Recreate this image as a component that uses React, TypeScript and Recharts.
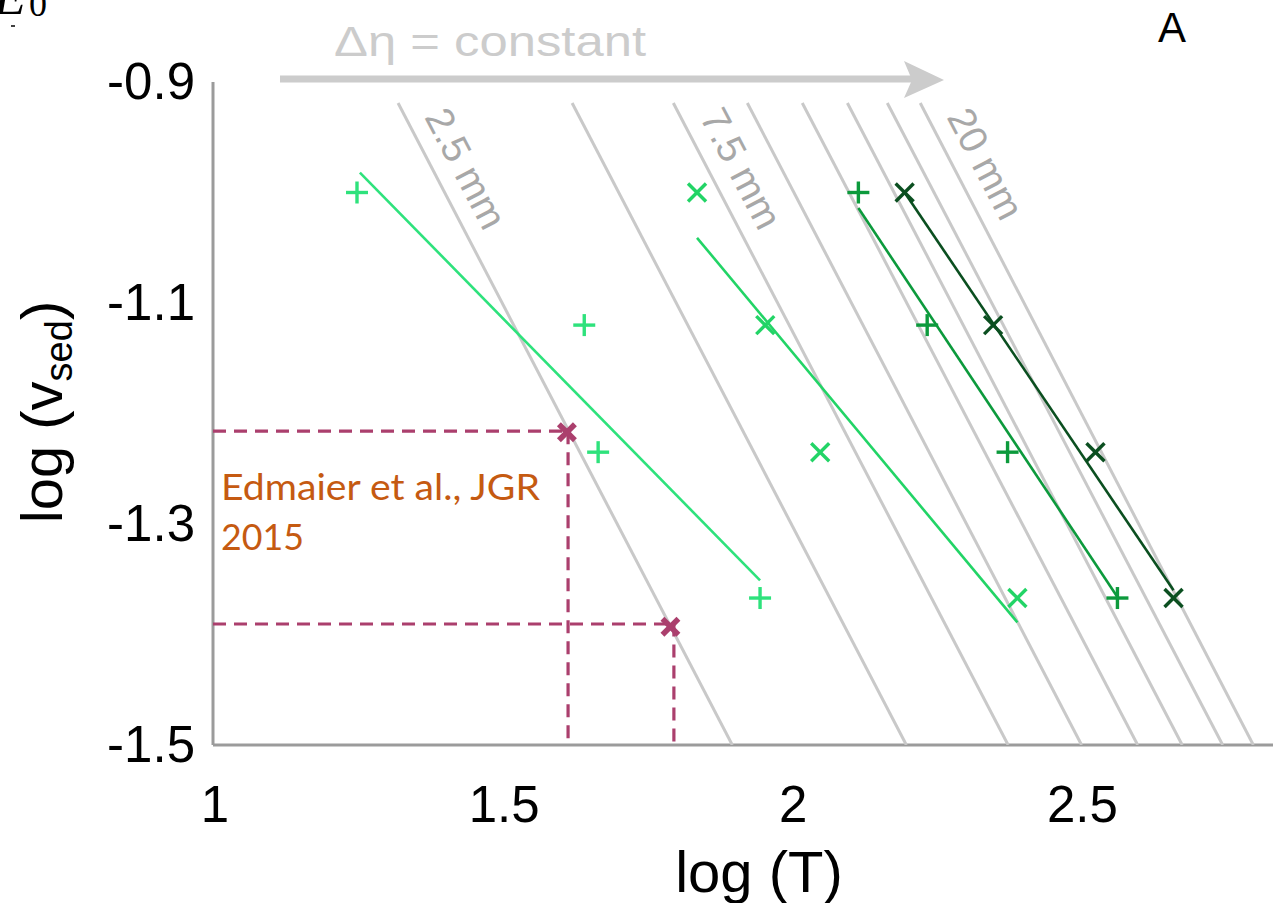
import React from 'react';
import { ScatterChart, Scatter, XAxis, YAxis } from 'recharts';

// ---- axes ----
const X_DOMAIN: [number, number] = [1, 2.833];
const Y_DOMAIN: [number, number] = [-1.5, -0.9];
const X_TICKS = [1, 1.5, 2, 2.5];
const X_TICK_LABELS = ['1', '1.5', '2', '2.5'];
const Y_TICKS = [-1.5, -1.3, -1.1, -0.9];
const Y_TICK_LABELS = ['-1.5', '-1.3', '-1.1', '-0.9'];

// ---- constant Δη guide lines (log T at bottom and top of each line) ----
const gridBottomLogT = [1.898, 2.199, 2.375, 2.502, 2.599, 2.676, 2.746, 2.799];
const gridTopLogT = [1.32, 1.621, 1.796, 1.924, 2.019, 2.097, 2.166, 2.223];
const GRID_TOP_V = -0.919;
const GRID_BOTTOM_V = -1.5;
const gridLabels = ['2.5 mm', '', '7.5 mm', '', '', '', '', '20 mm'];

// ---- measured series ----
const seriesV = [-1.0, -1.12, -1.235, -1.367];
const s1T = [1.249, 1.642, 1.666, 1.946];
const s2T = [1.837, 1.955, 2.05, 2.391];
const s3T = [2.116, 2.235, 2.374, 2.564];
const s4T = [2.196, 2.349, 2.526, 2.661];

// ---- fitted lines ----
const fit1T = [1.254, 1.946];
const fit1V = [-0.982, -1.351];
const fit2T = [1.837, 2.391];
const fit2V = [-1.041, -1.389];
const fit3T = [2.116, 2.564];
const fit3V = [-1.014, -1.366];
const fit4T = [2.196, 2.661];
const fit4V = [-1.0, -1.36];

// ---- Edmaier et al. points & guides ----
const edmT = [1.612, 1.791];
const edmV = [-1.217, -1.393];
const edmH1T = [1.0, 1.612];
const edmH1V = [-1.216, -1.216];
const edmV1T = [1.614, 1.614];
const edmV1V = [-1.216, -1.5];
const edmH2T = [1.0, 1.791];
const edmH2V = [-1.3905, -1.3905];
const edmV2T = [1.797, 1.797];
const edmV2V = [-1.39, -1.5];

const COLORS = {
  s1: '#2ee27c',
  s2: '#22d466',
  s3: '#0c9a3c',
  s4: '#0b4f20',
  grid: '#c9c9c9',
  axis: '#9b9b9b',
  edm: '#ab3f6d',
  edmText: '#c55a11',
  gridText: '#a8a8a8',
};

const toPts = (xs: number[], ys: number[]) => xs.map((x, i) => ({ x, y: ys[i] }));

const Empty = () => <g />;

const plusShape = (color: string) => (p: any) => {
  const { cx, cy } = p;
  const s = 11;
  return (
    <g stroke={color} strokeWidth={3.4}>
      <line x1={cx - s} y1={cy} x2={cx + s} y2={cy} />
      <line x1={cx} y1={cy - s} x2={cx} y2={cy + s} />
    </g>
  );
};

const crossShape = (color: string, s = 9, w = 3.4) => (p: any) => {
  const { cx, cy } = p;
  return (
    <g stroke={color} strokeWidth={w}>
      <line x1={cx - s} y1={cy - s} x2={cx + s} y2={cy + s} />
      <line x1={cx - s} y1={cy + s} x2={cx + s} y2={cy - s} />
    </g>
  );
};

const gridLabelShape = (p: any) => {
  const { cx, cy, payload } = p;
  const px = cx + 26;
  const py = cy + 14;
  return (
    <text
      x={px}
      y={py}
      transform={`rotate(62.5 ${px} ${py})`}
      fontFamily="'Liberation Sans', Arial, sans-serif"
      fontSize={39}
      fill={COLORS.gridText}
    >
      {payload.label}
    </text>
  );
};

const XTick = (p: any) => {
  const { x, y, payload } = p;
  const idx = X_TICKS.indexOf(payload.value);
  return (
    <text
      x={x + 2}
      y={y + 77}
      textAnchor="middle"
      fontFamily="'Liberation Sans', Arial, sans-serif"
      fontSize={51}
      fill="#000"
    >
      {X_TICK_LABELS[idx]}
    </text>
  );
};

const YTick = (p: any) => {
  const { x, y, payload } = p;
  const idx = Y_TICKS.indexOf(payload.value);
  return (
    <text
      x={x - 18}
      y={y + 17}
      textAnchor="end"
      fontFamily="'Liberation Sans', Arial, sans-serif"
      fontSize={51}
      fill="#000"
    >
      {Y_TICK_LABELS[idx]}
    </text>
  );
};

export default function App() {
  const gridLabelData = gridLabels
    .map((label, i) => ({ x: gridTopLogT[i], y: GRID_TOP_V, label }))
    .filter((d) => d.label !== '');
  const dashLine = { stroke: COLORS.edm, strokeWidth: 3.2, strokeDasharray: '13 8' };
  const sans = "'Liberation Sans', Arial, sans-serif";

  return (
    <div style={{ position: 'absolute', left: 0, top: 0, width: 1273, height: 903, background: '#fff' }}>
      <ScatterChart
        width={1273}
        height={903}
        margin={{ top: 82, right: 0, bottom: 0, left: 0 }}
      >
        <XAxis
          type="number"
          dataKey="x"
          domain={X_DOMAIN}
          ticks={X_TICKS}
          allowDataOverflow
          height={158}
          axisLine={{ stroke: COLORS.axis, strokeWidth: 3 }}
          tickLine={false}
          tickSize={0}
          tickMargin={0}
          tick={<XTick />}
          interval={0}
        />
        <YAxis
          type="number"
          dataKey="y"
          domain={Y_DOMAIN}
          ticks={Y_TICKS}
          allowDataOverflow
          width={213}
          axisLine={{ stroke: COLORS.axis, strokeWidth: 3 }}
          tickLine={false}
          tickSize={0}
          tickMargin={0}
          tick={<YTick />}
          interval={0}
        />

        {gridBottomLogT.map((b, i) => (
          <Scatter
            key={`g${i}`}
            data={toPts([gridTopLogT[i], b], [GRID_TOP_V, GRID_BOTTOM_V])}
            line={{ stroke: COLORS.grid, strokeWidth: 3 }}
            shape={Empty}
            isAnimationActive={false}
          />
        ))}
        <Scatter data={gridLabelData} shape={gridLabelShape} isAnimationActive={false} />

        <Scatter data={toPts(edmH1T, edmH1V)} line={dashLine} shape={Empty} isAnimationActive={false} />
        <Scatter data={toPts(edmV1T, edmV1V)} line={dashLine} shape={Empty} isAnimationActive={false} />
        <Scatter data={toPts(edmH2T, edmH2V)} line={dashLine} shape={Empty} isAnimationActive={false} />
        <Scatter data={toPts(edmV2T, edmV2V)} line={dashLine} shape={Empty} isAnimationActive={false} />

        <Scatter data={toPts(fit1T, fit1V)} line={{ stroke: COLORS.s1, strokeWidth: 2.6 }} shape={Empty} isAnimationActive={false} />
        <Scatter data={toPts(fit2T, fit2V)} line={{ stroke: COLORS.s2, strokeWidth: 2.6 }} shape={Empty} isAnimationActive={false} />
        <Scatter data={toPts(fit3T, fit3V)} line={{ stroke: COLORS.s3, strokeWidth: 2.6 }} shape={Empty} isAnimationActive={false} />
        <Scatter data={toPts(fit4T, fit4V)} line={{ stroke: COLORS.s4, strokeWidth: 2.6 }} shape={Empty} isAnimationActive={false} />

        <Scatter data={toPts(s1T, seriesV)} shape={plusShape(COLORS.s1)} isAnimationActive={false} />
        <Scatter data={toPts(s2T, seriesV)} shape={crossShape(COLORS.s2)} isAnimationActive={false} />
        <Scatter data={toPts(s3T, seriesV)} shape={plusShape(COLORS.s3)} isAnimationActive={false} />
        <Scatter data={toPts(s4T, seriesV)} shape={crossShape(COLORS.s4)} isAnimationActive={false} />

        <Scatter data={toPts(edmT, edmV)} shape={crossShape(COLORS.edm, 8, 5.5)} isAnimationActive={false} />
      </ScatterChart>

      <svg
        width={1273}
        height={903}
        style={{ position: 'absolute', left: 0, top: 0, pointerEvents: 'none' }}
      >
        {/* caption fragment, cropped at the top edge as in the reference */}
        <text x={-6} y={14} fontFamily="'Liberation Serif', serif" fontStyle="italic" fontSize={52} fill="#000">E</text>
        <text x={29} y={16} fontFamily="'Liberation Serif', serif" fontSize={36} fill="#000">0</text>
        <line x1={11} y1={26} x2={15} y2={26} stroke="#000" strokeWidth={1.5} />

        {/* Δη = constant arrow */}
        <text x={334} y={56} fontFamily={sans} fontSize={43} fill="#cccccc" textLength={312} lengthAdjust="spacingAndGlyphs">
          Δη = constant
        </text>
        <line x1={280} y1={79} x2={912} y2={79} stroke="#cccccc" strokeWidth={7} />
        <polygon points="904,61 944,80 904,98 912,80" fill="#cccccc" />

        {/* panel letter */}
        <text x={1172} y={42} textAnchor="middle" fontFamily={sans} fontSize={42} fill="#000">A</text>

        {/* axis titles */}
        <text x={759} y={892} textAnchor="middle" fontFamily={sans} fontSize={58} fill="#000">log (T)</text>
        <text
          x={62}
          y={412}
          textAnchor="middle"
          transform="rotate(-90 62 412)"
          fontFamily={sans}
          fontSize={58}
          fill="#000"
        >
          log (v
          <tspan fontSize={38} dy={10}>sed</tspan>
          <tspan dy={-10}>)</tspan>
        </text>

        {/* reference annotation */}
        <text x={221} y={500} fontFamily="Lato, 'Open Sans', sans-serif" fontSize={36} fill={COLORS.edmText} textLength={319} lengthAdjust="spacingAndGlyphs">
          Edmaier et al., JGR
        </text>
        <text x={221} y={550} fontFamily="Lato, 'Open Sans', sans-serif" fontSize={36} fill={COLORS.edmText} textLength={83} lengthAdjust="spacingAndGlyphs">
          2015
        </text>
      </svg>
    </div>
  );
}
